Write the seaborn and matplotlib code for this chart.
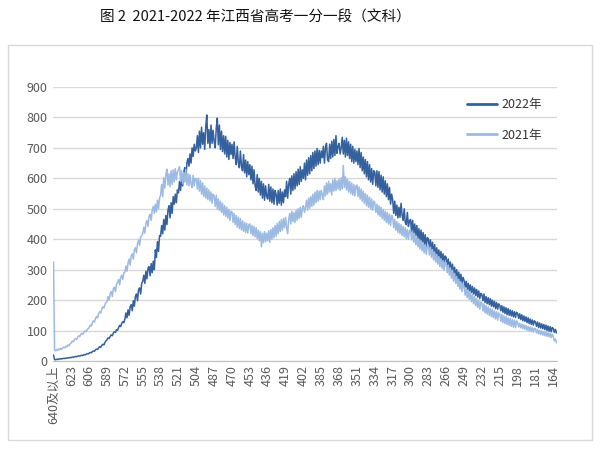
import matplotlib
matplotlib.use("Agg")
import matplotlib.pyplot as plt
import seaborn as sns
import pandas as pd
from matplotlib.patches import Rectangle

# scores per point: 640及以上, 639, 638, ... (one row = 17 scores)
v2022 = [
    20, 5, 4, 6, 5, 7, 6, 8, 7, 8, 9, 8, 10, 9, 11, 10, 12,
    11, 13, 12, 14, 15, 14, 16, 17, 16, 18, 19, 18, 21, 20, 22, 24, 23,
    26, 28, 27, 31, 33, 32, 37, 39, 38, 43, 47, 45, 51, 55, 53, 61, 66,
    70, 76, 74, 81, 86, 83, 92, 96, 94, 103, 101, 110, 117, 113, 124, 129, 126,
    138, 158, 142, 168, 150, 178, 185, 165, 198, 180, 212, 220, 198, 235, 240, 220, 255,
    262, 282, 255, 295, 270, 305, 310, 280, 320, 290, 328, 300, 365, 340, 392, 360, 412,
    410, 445, 418, 465, 430, 478, 448, 495, 510, 470, 520, 485, 540, 515, 548, 520, 562,
    552, 590, 560, 605, 575, 620, 635, 595, 650, 665, 640, 680, 650, 700, 672, 712, 690,
    700, 740, 685, 755, 700, 768, 712, 750, 695, 770, 808, 715, 760, 700, 775, 715, 758,
    720, 700, 765, 798, 710, 775, 695, 755, 688, 740, 680, 738, 670, 725, 662, 718, 678,
    712, 665, 720, 670, 645, 705, 652, 635, 690, 640, 625, 678, 618, 660, 605, 655, 612,
    645, 595, 640, 582, 628, 575, 560, 612, 555, 600, 545, 590, 535, 582, 528, 575, 540,
    532, 580, 525, 572, 520, 565, 515, 560, 548, 512, 560, 518, 565, 512, 555, 520, 562,
    540, 590, 535, 582, 600, 548, 608, 560, 615, 565, 622, 575, 630, 580, 638, 590, 628,
    600, 650, 595, 660, 610, 668, 615, 675, 625, 685, 632, 690, 640, 698, 645, 692, 650,
    690, 668, 705, 650, 700, 715, 662, 655, 712, 665, 722, 670, 728, 675, 740, 682, 705,
    715, 680, 700, 735, 680, 725, 670, 732, 675, 720, 665, 712, 655, 705, 650, 695, 655,
    690, 645, 698, 635, 685, 625, 670, 615, 662, 605, 655, 595, 645, 588, 632, 580, 625,
    620, 575, 625, 570, 622, 562, 610, 555, 605, 548, 592, 540, 582, 530, 570, 515, 548,
    530, 485, 525, 478, 512, 470, 505, 472, 518, 478, 462, 500, 455, 448, 488, 442, 460,
    465, 425, 462, 420, 450, 412, 445, 402, 435, 395, 430, 390, 422, 382, 415, 375, 405,
    402, 368, 398, 360, 390, 352, 382, 345, 372, 338, 365, 332, 360, 325, 352, 320, 345,
    340, 310, 335, 302, 325, 292, 318, 285, 308, 275, 300, 268, 292, 260, 285, 255, 275,
    265, 242, 262, 235, 255, 230, 250, 225, 245, 220, 240, 215, 235, 210, 230, 205, 222,
    218, 198, 220, 192, 212, 188, 208, 185, 205, 180, 200, 178, 196, 172, 192, 170, 188,
    182, 165, 182, 160, 178, 156, 175, 152, 172, 150, 168, 148, 165, 145, 162, 143, 160,
    156, 140, 155, 136, 152, 132, 148, 130, 145, 126, 142, 123, 138, 120, 135, 118, 132,
    128, 114, 128, 110, 125, 108, 122, 106, 120, 103, 118, 100, 115, 98, 113, 96, 110,
    106, 94, 104, 92,
]

v2021 = [
    325, 36, 33, 38, 35, 40, 37, 42, 39, 44, 46, 43, 49, 47, 53, 51, 57,
    60, 66, 63, 70, 74, 71, 78, 83, 80, 87, 91, 88, 95, 99, 96, 103, 106,
    110, 118, 114, 125, 132, 128, 140, 146, 142, 155, 162, 158, 170, 178, 174, 186, 192,
    196, 212, 200, 222, 228, 212, 238, 242, 228, 252, 258, 268, 250, 275, 282, 268, 290,
    292, 312, 295, 322, 335, 315, 345, 352, 335, 365, 372, 355, 385, 398, 380, 408, 412,
    418, 440, 420, 452, 462, 442, 475, 482, 462, 495, 508, 485, 515, 490, 528, 500, 535,
    545, 580, 540, 602, 568, 612, 630, 578, 615, 572, 625, 580, 628, 588, 632, 595, 620,
    628, 638, 590, 625, 582, 620, 588, 630, 578, 615, 575, 612, 582, 570, 610, 575, 600,
    598, 565, 600, 558, 592, 548, 585, 540, 575, 535, 568, 530, 562, 525, 555, 518, 548,
    542, 508, 545, 500, 532, 495, 525, 488, 518, 480, 510, 475, 505, 470, 498, 462, 492,
    490, 455, 485, 448, 478, 440, 472, 435, 468, 430, 460, 426, 455, 422, 452, 420, 448,
    450, 418, 445, 412, 442, 408, 438, 402, 430, 395, 425, 375, 420, 388, 425, 392, 420,
    395, 428, 390, 432, 400, 438, 405, 445, 410, 452, 418, 458, 425, 465, 430, 468, 438,
    472, 440, 418, 465, 485, 450, 492, 458, 488, 455, 495, 462, 500, 468, 505, 472, 502,
    510, 488, 505, 528, 495, 535, 502, 540, 508, 548, 512, 555, 520, 560, 525, 558, 530,
    560, 548, 530, 575, 542, 585, 548, 590, 555, 582, 545, 595, 558, 600, 560, 592, 565,
    598, 560, 602, 565, 642, 570, 605, 562, 598, 555, 590, 550, 585, 545, 580, 542, 575,
    578, 540, 572, 532, 565, 525, 558, 518, 550, 510, 545, 505, 538, 500, 532, 495, 525,
    520, 488, 515, 480, 510, 475, 505, 468, 498, 462, 492, 455, 488, 450, 482, 445, 478,
    472, 438, 465, 430, 458, 422, 452, 418, 448, 412, 442, 408, 438, 402, 432, 400, 428,
    430, 398, 425, 390, 416, 382, 408, 375, 400, 368, 395, 362, 388, 355, 382, 350, 378,
    380, 348, 374, 340, 366, 332, 358, 325, 350, 318, 343, 310, 336, 304, 330, 298, 325,
    322, 290, 315, 282, 306, 272, 298, 262, 288, 255, 278, 245, 268, 236, 260, 228, 252,
    244, 216, 240, 208, 232, 202, 225, 195, 218, 188, 212, 182, 205, 176, 200, 170, 194,
    190, 164, 188, 158, 182, 154, 178, 150, 173, 146, 170, 142, 165, 138, 162, 134, 158,
    155, 130, 153, 126, 149, 123, 146, 120, 142, 117, 140, 114, 137, 111, 134, 109, 132,
    126, 112, 124, 109, 121, 106, 119, 104, 117, 101, 114, 99, 112, 97, 110, 95, 108,
    106, 92, 104, 89, 101, 87, 99, 85, 97, 83, 95, 81, 93, 79, 91, 77, 88,
    80, 66, 72, 60,
]

assert len(v2022) == 480 and len(v2021) == 480
n = len(v2022)
scores = [640 - i for i in range(n)]
score_labels = ["640及以上"] + [str(s) for s in scores[1:]]
series_names = ["2022年", "2021年"]
colors = ["#34609e", "#9dbbe2"]

df = pd.DataFrame({
    "pos": list(range(n)) * 2,
    "value": v2022 + v2021,
    "year": [series_names[0]] * n + [series_names[1]] * n,
})

sns.set_style("white")
plt.rcParams["font.family"] = ["Noto Sans CJK SC", "DejaVu Sans"]

fig = plt.figure(figsize=(6, 4.61), dpi=100)
fig.patches.append(Rectangle((0.0133, 0.0456), 0.9733, 0.857, transform=fig.transFigure,
                             fill=False, edgecolor="#d9d9d9", linewidth=1))
fig.text(0.425, 0.961, "图 2  2021-2022 年江西省高考一分一段（文科）",
         ha="center", va="center", fontsize=10.5, color="#111111")

ax = fig.add_axes([0.0883, 0.2169, 0.840, 0.5944])
sns.lineplot(data=df, x="pos", y="value", hue="year", palette=colors,
             linewidth=1.1, sort=False, ax=ax, legend=False)

ax.set_xlim(-0.5, n - 0.5)
ax.set_ylim(0, 900)
ax.set_yticks(range(0, 901, 100))
ax.set_xticks(list(range(0, n, 17)))
ax.set_xticklabels(score_labels[::17], rotation=90)
ax.tick_params(axis="both", length=0, labelsize=9, colors="#595959", pad=4)
ax.tick_params(axis="x", labelsize=9, pad=3)
ax.grid(axis="y", color="#d9d9d9", linewidth=1)
ax.set_axisbelow(True)
for s in ["left", "right", "top"]:
    ax.spines[s].set_visible(False)
ax.spines["bottom"].set_color("#bfbfbf")
ax.set_xlabel("")
ax.set_ylabel("")

handles = [plt.Line2D([], [], color=c, linewidth=2) for c in colors]
ax.legend(handles, series_names, loc="upper left", bbox_to_anchor=(0.81, 0.982),
          frameon=False, fontsize=9, handlelength=2.4, handletextpad=0.3,
          labelspacing=1.4, borderpad=0, labelcolor="#333333")

fig.savefig("out.png", dpi=100, facecolor="white")
